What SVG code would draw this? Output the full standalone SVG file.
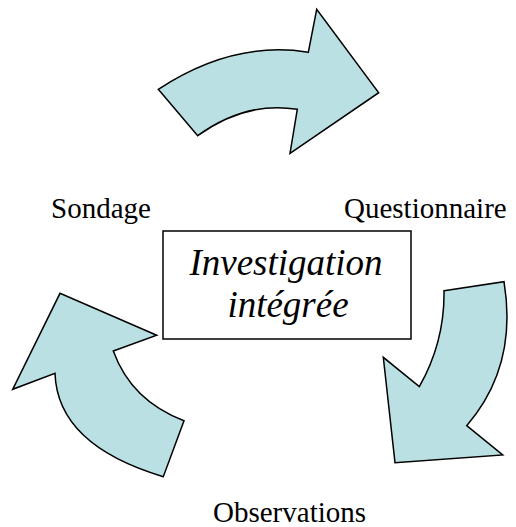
<svg xmlns="http://www.w3.org/2000/svg" width="516" height="527" viewBox="0 0 516 527">
<style>
.arrow{fill:#BBE0E3;stroke:#000;stroke-width:1.5;stroke-linejoin:miter}
.lbl{font-family:"Liberation Serif","Times New Roman",serif;font-size:29px;fill:#000}
.ctr{font-family:"Liberation Serif","Times New Roman",serif;font-size:37px;font-style:italic;fill:#000;text-anchor:middle}
</style>
<rect width="516" height="527" fill="#fff"/>
<g id="arrows">
<path id="arrow-top" class="arrow" d="M158.3,89.3 L197.7,135.7 Q245.9,100.9 297.3,109.3 L290,153.3 L378.7,92.7 L316.7,9.3 L308.3,52.3 Q233.3,40 158.3,89.3 Z"/>
<path id="arrow-right" class="arrow" d="M444,290.7 L504,281.7 Q518,366.3 466.7,425.7 L502.7,455 L395,462.7 L383.3,357.3 L419.3,386.7 Q444.9,341.3 444,290.7 Z"/>
<path id="arrow-left" class="arrow" d="M184,420.7 L163.3,476.7 Q57.4,445 55,373.3 L12.7,389.3 L60,293.3 L156.7,335.3 L113.3,351 Q131.3,400.7 184,420.7 Z"/>
</g>
<g id="center">
<rect x="163" y="231" width="248" height="108" fill="#fff" stroke="#000" stroke-width="1.5"/>
<text class="ctr" x="286" y="275">Investigation</text>
<text class="ctr" x="288" y="316.5">intégrée</text>
</g>
<g id="label-sondage"><text class="lbl" x="51" y="218">Sondage</text></g>
<g id="label-questionnaire"><text class="lbl" x="344" y="217.5">Questionnaire</text></g>
<g id="label-observations"><text class="lbl" x="213" y="522">Observations</text></g>
</svg>
